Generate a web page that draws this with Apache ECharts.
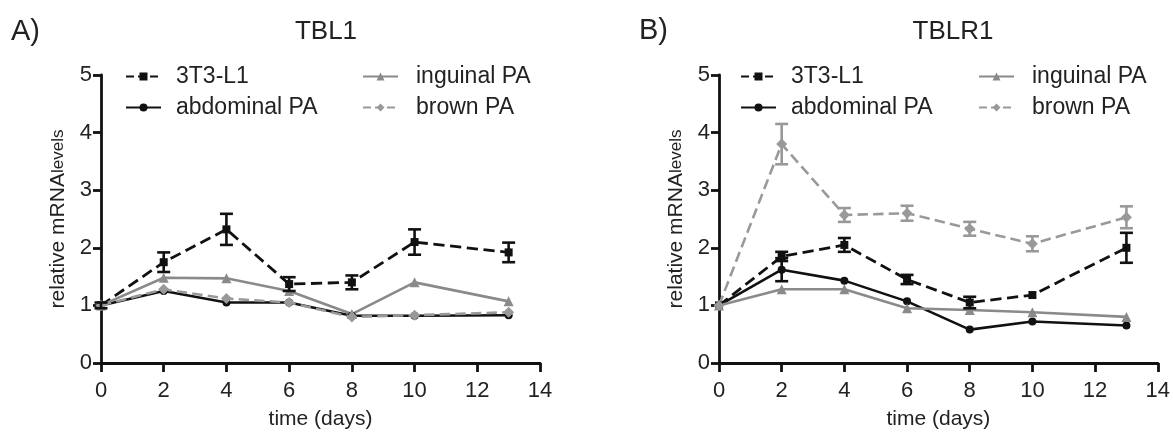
<!DOCTYPE html>
<html><head><meta charset="utf-8">
<script src="https://cdn.jsdelivr.net/npm/echarts@6/dist/echarts.min.js"></script>
<style>html,body{margin:0;padding:0;background:#fff}#c{width:1173px;height:435px}</style>
</head><body><div id="c"></div>
<script>
const days = [0, 2, 4, 6, 8, 10, 13];
const seriesNames = ['3T3-L1', 'abdominal PA', 'inguinal PA', 'brown PA'];
// Panel A: TBL1
const tbl1_3t3 = [1.0, 1.75, 2.32, 1.37, 1.40, 2.10, 1.92];
const tbl1_3t3_err = [0.05, 0.17, 0.27, 0.12, 0.12, 0.22, 0.17];
const tbl1_abd = [1.0, 1.25, 1.05, 1.05, 0.82, 0.82, 0.83];
const tbl1_abd_err = [0, 0, 0, 0, 0, 0, 0];
const tbl1_ing = [1.0, 1.48, 1.47, 1.25, 0.85, 1.40, 1.07];
const tbl1_ing_err = [0, 0, 0, 0, 0, 0, 0];
const tbl1_brown = [1.0, 1.28, 1.12, 1.05, 0.80, 0.83, 0.88];
const tbl1_brown_err = [0, 0, 0, 0, 0, 0, 0];
// Panel B: TBLR1
const tblr1_3t3 = [1.0, 1.85, 2.05, 1.45, 1.05, 1.18, 2.0];
const tblr1_3t3_err = [0, 0.08, 0.12, 0.08, 0.10, 0, 0.26];
const tblr1_abd = [1.0, 1.62, 1.43, 1.07, 0.58, 0.72, 0.65];
const tblr1_abd_err = [0, 0.20, 0, 0, 0, 0, 0];
const tblr1_ing = [1.0, 1.28, 1.28, 0.95, 0.92, 0.88, 0.80];
const tblr1_ing_err = [0, 0, 0, 0, 0, 0, 0];
const tblr1_brown = [1.0, 3.80, 2.57, 2.60, 2.33, 2.07, 2.53];
const tblr1_brown_err = [0, 0.35, 0.12, 0.13, 0.12, 0.13, 0.19];

const styles = [
  {color: '#111', type: 'dashed', symbol: 'rect', size: 8, width: 2.8},
  {color: '#111', type: 'solid', symbol: 'circle', size: 8, width: 2.6},
  {color: '#8a8a8a', type: 'solid', symbol: 'triangle', size: 10, width: 2.6},
  {color: '#999', type: 'dashed', symbol: 'diamond', size: 11, width: 2.6}
];
const FONT = 'Liberation Sans, Arial, sans-serif';
const TXT = '#222';

function pairs(vals) { return days.map((d, i) => [d, vals[i]]); }
function errData(vals, errs) {
  return days.map((d, i) => [d, vals[i] - errs[i], vals[i] + errs[i]]).filter((r, i) => errs[i] > 0);
}
function errSeries(gi, vals, errs, st) {
  return {
    type: 'custom', xAxisIndex: gi, yAxisIndex: gi, z: 5,
    data: errData(vals, errs),
    renderItem: function (params, api) {
      const lo = api.coord([api.value(0), api.value(1)]);
      const hi = api.coord([api.value(0), api.value(2)]);
      const w = 6.5;
      const s = {stroke: st.color, lineWidth: 2.6};
      return {type: 'group', children: [
        {type: 'line', shape: {x1: lo[0], y1: lo[1], x2: hi[0], y2: hi[1]}, style: s},
        {type: 'line', shape: {x1: lo[0] - w, y1: lo[1], x2: lo[0] + w, y2: lo[1]}, style: s},
        {type: 'line', shape: {x1: hi[0] - w, y1: hi[1], x2: hi[0] + w, y2: hi[1]}, style: s}
      ]};
    }
  };
}
function lineSeries(gi, name, vals, st) {
  return {
    type: 'line', name: name, xAxisIndex: gi, yAxisIndex: gi, data: pairs(vals),
    symbol: st.symbol, symbolSize: st.size, z: 4,
    itemStyle: {color: st.color},
    lineStyle: {color: st.color, type: st.type, width: st.width}
  };
}

const panels = [
  [tbl1_3t3, tbl1_abd, tbl1_ing, tbl1_brown],
  [tblr1_3t3, tblr1_abd, tblr1_ing, tblr1_brown]
];
const panelErrs = [
  [tbl1_3t3_err, tbl1_abd_err, tbl1_ing_err, tbl1_brown_err],
  [tblr1_3t3_err, tblr1_abd_err, tblr1_ing_err, tblr1_brown_err]
];

const series = [];
panels.forEach((p, gi) => {
  p.forEach((vals, si) => {
    series.push(lineSeries(gi, seriesNames[si], vals, styles[si]));
    series.push(errSeries(gi, vals, panelErrs[gi][si], styles[si]));
  });
});

function xAxis(gi) {
  return {
    type: 'value', gridIndex: gi, min: 0, max: 14, interval: 2,
    name: 'time (days)', nameLocation: 'middle', nameGap: 46,
    nameTextStyle: {fontSize: 21, color: TXT, fontFamily: FONT},
    axisLine: {lineStyle: {color: '#111', width: 2.8}},
    axisTick: {show: true, inside: false, length: 9, lineStyle: {color: '#111', width: 2.8}},
    axisLabel: {fontSize: 22, color: TXT, margin: 17, fontFamily: FONT},
    splitLine: {show: false}
  };
}
function yAxis(gi) {
  return {
    type: 'value', gridIndex: gi, min: 0, max: 5, interval: 1,
    name: '{a|relative mRNA}{b|levels}', nameLocation: 'middle', nameGap: 32,
    nameTextStyle: {rich: {a: {fontSize: 21, color: TXT, fontFamily: FONT}, b: {fontSize: 17, color: TXT, fontFamily: FONT}}},
    axisLine: {show: true, lineStyle: {color: '#111', width: 2.8}},
    axisTick: {show: true, inside: false, length: 8, lineStyle: {color: '#111', width: 2.8}},
    axisLabel: {fontSize: 22, color: TXT, margin: 9, fontFamily: FONT},
    splitLine: {show: false}
  };
}
function legend(left, names, pad) {
  return {
    data: names, orient: 'vertical', left: left, top: 65, itemGap: 8,
    itemWidth: 35, itemHeight: 10, selectedMode: false, padding: 0,
    textStyle: {fontSize: 23, lineHeight: 23, color: TXT, fontFamily: FONT, padding: [0, 0, 0, pad]}
  };
}

const option = {
  animation: false,
  backgroundColor: '#fff',
  title: [
    {text: 'TBL1', left: 321, top: 14, textAlign: 'center', textStyle: {fontSize: 26, fontWeight: 'normal', color: TXT, fontFamily: FONT}},
    {text: 'TBLR1', left: 948, top: 14, textAlign: 'center', textStyle: {fontSize: 26, fontWeight: 'normal', color: TXT, fontFamily: FONT}},
    {text: 'A)', left: 11, top: 17, padding: 0, textStyle: {fontSize: 29, fontWeight: 'normal', color: TXT, fontFamily: FONT}},
    {text: 'B)', left: 639, top: 16, padding: 0, textStyle: {fontSize: 29, fontWeight: 'normal', color: TXT, fontFamily: FONT}}
  ],
  grid: [
    {left: 101, right: 633, top: 75, bottom: 70},
    {left: 719, right: 15, top: 75, bottom: 70}
  ],
  xAxis: [xAxis(0), xAxis(1)],
  yAxis: [yAxis(0), yAxis(1)],
  legend: [
    legend(125, [seriesNames[0], seriesNames[1]], 10),
    legend(362, [seriesNames[2], seriesNames[3]], 13),
    legend(740, [seriesNames[0], seriesNames[1]], 10),
    legend(978, [seriesNames[2], seriesNames[3]], 13)
  ],
  series: series
};
const chart = echarts.init(document.getElementById('c'), null, {renderer: 'canvas'});
chart.setOption(option);
</script></body></html>
